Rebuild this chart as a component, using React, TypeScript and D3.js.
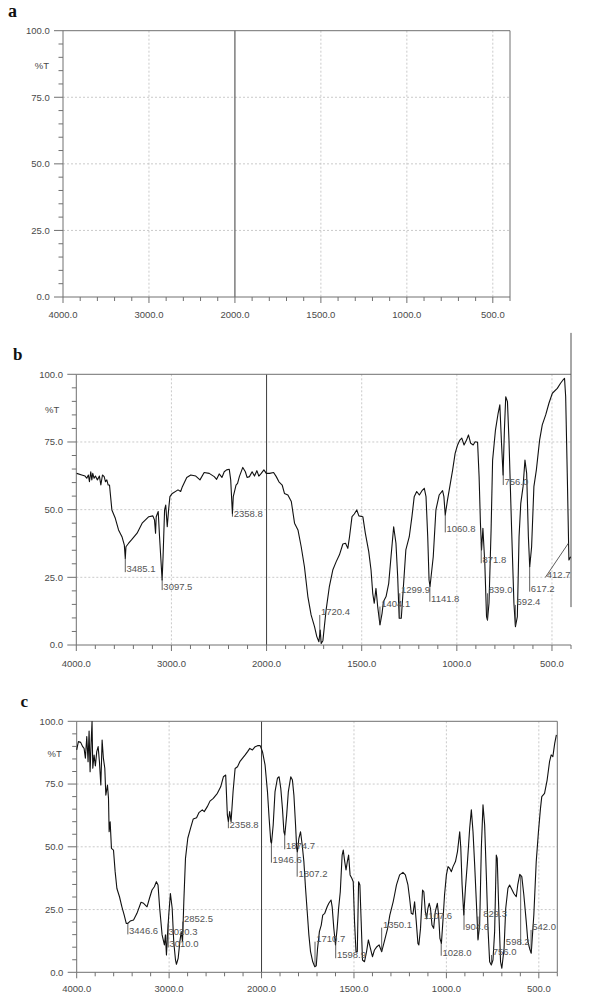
import React from 'react';
import * as d3 from 'd3';

// ---------- data ----------
const xTickValues = [4000, 3000, 2000, 1500, 1000, 500];
const yTickValues = [0, 25, 50, 75, 100];
const xGridValues = [3000, 1500, 1000, 500];
const yGridValues = [25, 50, 75];
const xMinorValues = [...d3.range(4000, 2000, -200), ...d3.range(2000, 399, -100)];
const yMinorValues = d3.range(0, 101, 5);
const breakWn = 2000;

// spectrum b: [wavenumber, %T]
const specB: [number, number][] = [
  [3996, 63.4], [3943, 62.8], [3908, 62.4], [3890, 61.6], [3873, 62.8], [3862, 60.3], [3848, 64], [3837, 61],
  [3827, 63.4], [3813, 61.6], [3799, 62.4], [3778, 61], [3757, 62.4], [3742, 59.1], [3725, 62.8], [3707, 62.2],
  [3693, 60.3], [3679, 61], [3665, 59.1], [3651, 59.1], [3641, 55.4], [3626, 49.9], [3590, 46.8], [3556, 42.5],
  [3520, 40], [3495, 36.9], [3485, 32], [3478, 36.3], [3450, 37.6], [3420, 38.8], [3361, 41.3], [3308, 45],
  [3238, 47.4], [3195, 47.7], [3178, 46.2], [3167, 41.3], [3160, 47.4], [3139, 49.3], [3125, 40], [3098, 24],
  [3088, 32.6], [3072, 49.9], [3060, 51.7], [3044, 43.7], [3030, 49.9], [3016, 54.8], [2991, 56], [2931, 57.3],
  [2903, 56.7], [2885, 58.5], [2839, 61.9], [2797, 62.8], [2744, 62.4], [2700, 61], [2656, 63.7], [2603, 63.4],
  [2550, 62.2], [2525, 61.2], [2498, 63.2], [2469, 61.9], [2445, 64], [2420, 64.7], [2392, 64.9], [2377, 61],
  [2359, 48.5], [2350, 54.8], [2321, 59.1], [2305, 59.7], [2286, 62.2], [2250, 65.6], [2223, 64], [2205, 61.9],
  [2180, 62.2], [2152, 64], [2127, 62.4], [2102, 64.4], [2081, 62.4], [2056, 63.4], [2028, 64.7], [2003, 63.4],
  [1984, 63.4], [1963, 63.7], [1949, 62.2], [1935, 60.3], [1918, 59.1], [1906, 56], [1888, 55.4], [1870, 53],
  [1853, 45], [1835, 42.5], [1818, 36.3], [1801, 28.9], [1783, 17.9], [1766, 11.1], [1748, 6.8], [1736, 3.1],
  [1725, 1.2], [1718, 5.5], [1713, 0.6], [1704, 1.6], [1687, 13], [1670, 21.6], [1652, 27.7], [1634, 30.8],
  [1617, 33.3], [1599, 37.3], [1585, 37.6], [1573, 35.7], [1564, 40], [1551, 47.4], [1539, 48.4], [1526, 49.9],
  [1515, 47.7], [1494, 47.4], [1481, 41.3], [1463, 34.5], [1451, 27.7], [1442, 19.1], [1434, 15.4], [1425, 20.9],
  [1416, 14.2], [1404, 7.4], [1393, 11.7], [1386, 16], [1372, 17.9], [1358, 22.8], [1346, 32.6], [1332, 43.7],
  [1320, 37.6], [1311, 25.4], [1303, 9.9], [1292, 9.9], [1282, 20.3], [1268, 35.1], [1250, 40], [1236, 47.4],
  [1224, 54.8], [1211, 56.7], [1197, 55.4], [1183, 57], [1171, 57.9], [1162, 54.8], [1153, 40], [1146, 24],
  [1141, 21.6], [1124, 32.6], [1110, 49.9], [1093, 55.4], [1075, 57], [1068, 54.8], [1061, 48], [1049, 53.6],
  [1037, 58.5], [1031, 61], [1022, 64.7], [1009, 70.8], [996, 73.9], [984, 75.7], [974, 76.4], [962, 73.9],
  [949, 75.7], [939, 77.6], [927, 74.5], [914, 73.9], [904, 75.1], [891, 74.9], [883, 62.2], [876, 45],
  [870, 35.1], [863, 43.1], [853, 30.2], [844, 10.5], [839, 9.2], [831, 15.4], [820, 42.5], [812, 68.3],
  [797, 79.4], [783, 85.6], [774, 88.7], [766, 75.7], [757, 62.8], [750, 79.4], [743, 91.7], [734, 89.9],
  [726, 75.7], [712, 42.5], [700, 15.4], [692, 6.8], [682, 10.5], [673, 40], [664, 52.3], [652, 58.5],
  [642, 68.3], [633, 63.4], [624, 40], [617, 28.9], [607, 36.3], [595, 58.5], [582, 64.7], [565, 75.7],
  [551, 81.3], [533, 85], [516, 89.3], [498, 93], [472, 94.8], [455, 96.7], [442, 97.9], [434, 98.5],
  [428, 91.7], [419, 61], [411, 31.4], [402, 32.6],
];

// spectrum c: [wavenumber, %T]
const specC: [number, number][] = [
  [4000, 88.6], [3982, 91.9], [3957, 91.6], [3935, 89.9], [3920, 89.2], [3906, 85.3], [3891, 93.9], [3877, 83.9],
  [3866, 96.1], [3855, 79.9], [3845, 90.6], [3834, 99.9], [3826, 81.3], [3812, 86.6], [3798, 82.2], [3783, 87.9],
  [3768, 89.9], [3754, 83.9], [3739, 74.6], [3725, 92.5], [3711, 85.2], [3696, 81.3], [3685, 70.6], [3667, 74.6],
  [3656, 69.3], [3649, 56], [3638, 60], [3624, 49.4], [3602, 48.7], [3584, 40.1], [3565, 33.4], [3537, 30.1],
  [3511, 26.1], [3486, 22.8], [3464, 19.5], [3447, 19.5], [3421, 20.4], [3385, 20.8], [3348, 23.5], [3304, 27.9],
  [3276, 27.5], [3239, 26.1], [3211, 29.7], [3185, 32.8], [3160, 34.1], [3138, 36.1], [3120, 34.8], [3102, 25.5],
  [3076, 14.9], [3051, 10.9], [3040, 14.9], [3029, 6.9], [3018, 14.9], [3004, 22.8], [2986, 31.4], [2967, 25.5],
  [2950, 12.2], [2931, 4.9], [2921, 3.2], [2902, 5.6], [2884, 12.2], [2869, 16.2], [2855, 12.2], [2841, 28.1],
  [2823, 45.4], [2798, 53.4], [2768, 57.4], [2739, 61.1], [2703, 61.6], [2678, 63.6], [2641, 64.7], [2620, 64],
  [2587, 66], [2558, 68.2], [2522, 69.3], [2478, 71.3], [2442, 73.9], [2413, 77.9], [2388, 78.6], [2370, 62.7],
  [2359, 60], [2345, 64], [2330, 60], [2308, 72], [2286, 81.2], [2260, 81.9], [2235, 83.9], [2205, 85.3],
  [2177, 86.6], [2151, 87.9], [2127, 89.2], [2098, 88.6], [2069, 89.9], [2043, 90.3], [2015, 90.3], [1995, 87.9],
  [1981, 82.6], [1968, 72], [1959, 61.4], [1950, 52], [1946, 51.4], [1937, 58.7], [1927, 72], [1914, 77.3],
  [1905, 77.9], [1896, 73.3], [1887, 65.3], [1879, 56], [1874, 54.7], [1864, 62.7], [1855, 72], [1842, 77.9],
  [1833, 76.6], [1825, 70.6], [1816, 58.7], [1810, 49.4], [1806, 48], [1798, 53.4], [1789, 56], [1780, 50.7],
  [1771, 44.1], [1762, 33.5], [1753, 24.2], [1744, 14.9], [1735, 8.2], [1723, 4.2], [1712, 2.2], [1704, 2.6],
  [1697, 9.5], [1687, 16.2], [1677, 18.8], [1669, 22.8], [1658, 23.5], [1645, 26.1], [1636, 27.5], [1624, 28.8],
  [1618, 26.1], [1609, 17.5], [1600, 10.9], [1591, 17.5], [1583, 25.5], [1574, 32.1], [1564, 46.7], [1558, 48.7],
  [1550, 44.1], [1543, 40.8], [1536, 44.1], [1529, 46.7], [1521, 38.8], [1511, 37.4], [1504, 36.1], [1497, 20.2],
  [1489, 8.2], [1482, 8.2], [1475, 36.1], [1468, 34.8], [1461, 20.2], [1454, 4.9], [1443, 4.2], [1432, 8.2],
  [1422, 12.9], [1411, 9.5], [1400, 6.2], [1389, 8.9], [1376, 10.2], [1364, 10.9], [1350, 8.2], [1336, 12.2],
  [1318, 17.5], [1306, 22.8], [1288, 28.1], [1280, 31], [1270, 34.8], [1253, 38.8], [1235, 39.8], [1222, 38.8],
  [1208, 34.8], [1199, 29.5], [1190, 23.5], [1181, 23.1], [1172, 28.1], [1163, 20.2], [1154, 11.5], [1149, 10.9],
  [1140, 17.5], [1129, 32.8], [1122, 32.1], [1114, 24.2], [1107, 21.5], [1100, 25.5], [1093, 27.5], [1086, 25.5],
  [1078, 18.8], [1069, 17.5], [1060, 24.2], [1049, 27.5], [1042, 22.8], [1035, 13.5], [1027, 11.5], [1019, 20.2],
  [1010, 30.8], [1000, 38.8], [991, 42.1], [982, 41.4], [973, 40.1], [964, 42.1], [951, 44.1], [940, 48.1],
  [928, 56], [922, 49.4], [915, 34.8], [906, 22.8], [897, 33.5], [886, 44.1], [874, 57.4], [865, 64.7],
  [856, 56], [847, 42.8], [838, 28.1], [829, 12.9], [820, 18.8], [811, 49.4], [802, 66.7], [793, 58.7],
  [784, 38.8], [775, 17.5], [766, 4.2], [757, 2.9], [748, 4.9], [739, 16.2], [730, 46.7], [725, 45.4],
  [718, 28.1], [707, 4.2], [700, 1.6], [688, 9.5], [679, 25.5], [667, 33.5], [658, 34.8], [649, 33.5],
  [635, 31.4], [622, 30.1], [614, 34.8], [603, 39], [592, 38.1], [581, 30.8], [568, 20.2], [559, 12.2],
  [550, 9.5], [541, 7.6], [527, 22.8], [514, 44.1], [502, 56], [491, 65.3], [484, 70], [469, 71.3],
  [455, 76.6], [442, 83.9], [433, 86.6], [424, 85.9], [414, 91.2], [405, 94.6],
];

// peak labels: wavenumber, text, %T level of label baseline, optional text shift (px), leader
type Peak = { wn: number; text: string; level: number; shift?: number; leader?: boolean };
const peaksB: Peak[] = [
  { wn: 3485.1, text: '3485.1', level: 26.9 },
  { wn: 3097.5, text: '3097.5', level: 20.3 },
  { wn: 2358.8, text: '2358.8', level: 47.4 },
  { wn: 1720.4, text: '1720.4', level: 11.1 },
  { wn: 1404.1, text: '1404.1', level: 14.2 },
  { wn: 1299.9, text: '1299.9', level: 19.1 },
  { wn: 1141.8, text: '1141.8', level: 16 },
  { wn: 1060.8, text: '1060.8', level: 41.6 },
  { wn: 871.8, text: '871.8', level: 30.2 },
  { wn: 839.0, text: '839.0', level: 19.1 },
  { wn: 756.0, text: '756.0', level: 59.1 },
  { wn: 692.4, text: '692.4', level: 14.8 },
  { wn: 617.2, text: '617.2', level: 19.7 },
  { wn: 412.7, text: '412.7', level: 24.6, shift: -23, leader: true },
];
const peaksC: Peak[] = [
  { wn: 3446.6, text: '3446.6', level: 15.1 },
  { wn: 3020.3, text: '3020.3', level: 14.9 },
  { wn: 3010.0, text: '3010.0', level: 9.9 },
  { wn: 2852.5, text: '2852.5', level: 20.2 },
  { wn: 2358.8, text: '2358.8', level: 57.4 },
  { wn: 1946.6, text: '1946.6', level: 43.7 },
  { wn: 1874.7, text: '1874.7', level: 49 },
  { wn: 1807.2, text: '1807.2', level: 38.1 },
  { wn: 1710.7, text: '1710.7', level: 12.2 },
  { wn: 1598.9, text: '1598.9', level: 5.6 },
  { wn: 1350.1, text: '1350.1', level: 17.8 },
  { wn: 1107.6, text: '1107.6', level: 21.1, shift: -4 },
  { wn: 1028.0, text: '1028.0', level: 6.6 },
  { wn: 904.6, text: '904.6', level: 16.9 },
  { wn: 829.3, text: '829.3', level: 22.2, shift: 4 },
  { wn: 756.0, text: '756.0', level: 6.9 },
  { wn: 598.2, text: '598.2', level: 10.9, shift: -16 },
  { wn: 542.0, text: '542.0', level: 16.9 },
];

// ---------- layout ----------
type Layout = {
  left: number; right: number; top: number; bottom: number;
  letter: string; letterX: number; letterY: number; letterSize: number;
  xLabelDy: number; pctDx: number; rightLine?: [number, number];
};
const layoutA: Layout = { left: 63, right: 510, top: 30.7, bottom: 297, letter: 'a', letterX: 8, letterY: 17, letterSize: 18, xLabelDy: 21.3, pctDx: 14 };
const layoutB: Layout = { left: 76.3, right: 571, top: 374.3, bottom: 645, letter: 'b', letterX: 13, letterY: 359.5, letterSize: 17, xLabelDy: 22.3, pctDx: 17, rightLine: [115.3, 14] };
const layoutC: Layout = { left: 76.7, right: 557.3, top: 721.3, bottom: 972.3, letter: 'c', letterX: 20.5, letterY: 706.7, letterSize: 17, xLabelDy: 19.4, pctDx: 15 };

const AXIS_FONT = "'Liberation Sans', Arial, sans-serif";
const TEXT_COLOR = '#4a4a4a';
const FRAME_COLOR = '#707070';

function valueAt(data: [number, number][], wn: number): number {
  for (let i = 0; i < data.length - 1; i++) {
    const [w0, v0] = data[i];
    const [w1, v1] = data[i + 1];
    if (wn <= w0 && wn >= w1) {
      const t = w0 === w1 ? 0 : (w0 - wn) / (w0 - w1);
      return v0 + t * (v1 - v0);
    }
  }
  return data.length ? data[data.length - 1][1] : 0;
}

function Panel({ L, data, peaks }: { L: Layout; data?: [number, number][]; peaks?: Peak[] }) {
  const w = L.right - L.left;
  const x = d3.scaleLinear()
    .domain([4000, breakWn, 400])
    .range([L.left, L.left + (w * 2000) / 5200, L.right]);
  const y = d3.scaleLinear().domain([0, 100]).range([L.bottom, L.top]);
  const line = d3.line<[number, number]>().x(d => x(d[0])).y(d => y(d[1]));

  return (
    <g>
      <text x={L.letterX} y={L.letterY} fontFamily="'Liberation Serif', 'Times New Roman', serif" fontWeight="bold" fontSize={L.letterSize} fill="#111">{L.letter}</text>
      {/* grid */}
      {xGridValues.map(v => (
        <line key={'gx' + v} x1={x(v)} x2={x(v)} y1={L.top} y2={L.bottom} stroke="#bdbdbd" strokeWidth={0.8} strokeDasharray="2,2" />
      ))}
      {yGridValues.map(v => (
        <line key={'gy' + v} x1={L.left} x2={L.right} y1={y(v)} y2={y(v)} stroke="#bdbdbd" strokeWidth={0.8} strokeDasharray="2,2" />
      ))}
      <line x1={x(breakWn)} x2={x(breakWn)} y1={L.top} y2={L.bottom} stroke="#3c3c3c" strokeWidth={1} />
      {/* frame */}
      <line x1={L.left} x2={L.right} y1={L.top} y2={L.top} stroke={FRAME_COLOR} strokeWidth={1} />
      <line x1={L.left} x2={L.right} y1={L.bottom} y2={L.bottom} stroke={FRAME_COLOR} strokeWidth={1} />
      <line x1={L.left} x2={L.left} y1={L.top} y2={L.bottom} stroke={FRAME_COLOR} strokeWidth={1} />
      {L.rightLine ? (
        <line x1={L.right} x2={L.right} y1={y(L.rightLine[0])} y2={y(L.rightLine[1])} stroke="#505050" strokeWidth={1} />
      ) : (
        <line x1={L.right} x2={L.right} y1={L.top} y2={L.bottom} stroke={FRAME_COLOR} strokeWidth={1} />
      )}
      {/* y ticks */}
      {yMinorValues.map(v => (
        <line key={'ym' + v} x1={L.left - (v % 25 === 0 ? 9 : 4.5)} x2={L.left} y1={y(v)} y2={y(v)} stroke={FRAME_COLOR} strokeWidth={1} />
      ))}
      {yTickValues.map(v => (
        <text key={'yl' + v} x={L.left - 13.3} y={y(v) + 3.4} textAnchor="end" fontFamily={AXIS_FONT} fontSize={9.5} fill={TEXT_COLOR}>{v.toFixed(1)}</text>
      ))}
      <text x={L.left - L.pctDx} y={y(87) + 3.4} textAnchor="end" fontFamily={AXIS_FONT} fontSize={9.5} fill={TEXT_COLOR}>%T</text>
      {/* x ticks */}
      {xMinorValues.map(v => (
        <line key={'xm' + v} x1={x(v)} x2={x(v)} y1={L.bottom} y2={L.bottom + (xTickValues.includes(v) ? 6 : 4)} stroke={FRAME_COLOR} strokeWidth={1} />
      ))}
      {xTickValues.map(v => (
        <text key={'xl' + v} x={x(v)} y={L.bottom + L.xLabelDy} textAnchor="middle" fontFamily={AXIS_FONT} fontSize={9.5} fill={TEXT_COLOR}>{v.toFixed(1)}</text>
      ))}
      {/* spectrum */}
      {data && <path d={line(data) || ''} fill="none" stroke="#111" strokeWidth={1.1} strokeLinejoin="round" />}
      {/* peak labels */}
      {data && peaks && peaks.map(p => {
        const px = x(p.wn);
        const cy = y(valueAt(data, p.wn));
        const ly = y(p.level);
        const tx = px + 1.2 + (p.shift || 0);
        return (
          <g key={'pk' + p.text}>
            {p.leader ? (
              <line x1={px} x2={tx - 1.5} y1={cy} y2={ly - 1} stroke="#333" strokeWidth={0.8} />
            ) : (
              <line x1={px} x2={px} y1={cy} y2={ly} stroke="#333" strokeWidth={0.8} />
            )}
            <text x={tx} y={ly} fontFamily={AXIS_FONT} fontSize={9.5} fill="#555">{p.text}</text>
          </g>
        );
      })}
    </g>
  );
}

export default function App() {
  return (
    <svg width={600} height={1003} style={{ position: 'absolute', left: 0, top: 0, background: '#fff' }}>
      <rect x={0} y={0} width={600} height={1003} fill="#fff" />
      <Panel L={layoutA} />
      <Panel L={layoutB} data={specB} peaks={peaksB} />
      <Panel L={layoutC} data={specC} peaks={peaksC} />
    </svg>
  );
}
